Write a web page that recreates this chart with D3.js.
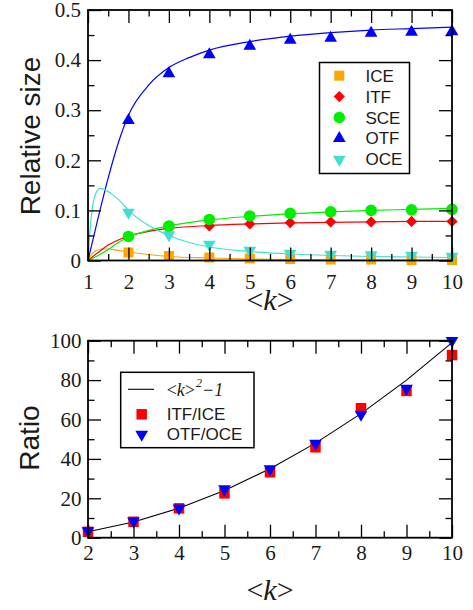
<!DOCTYPE html>
<html><head><meta charset="utf-8">
<script src="https://cdn.jsdelivr.net/npm/d3@7"></script>
<style>body{margin:0;background:#fff}svg{display:block}</style>
</head><body>
<script>
// ---------- DATA (top panel) ----------
const kPoints = [2,3,4,5,6,7,8,9,10];
const iceVals = [0.016,0.009,0.006,0.004,0.003,0.002,0.002,0.001,0.001];
const itfVals = [0.048,0.064,0.069,0.073,0.0755,0.077,0.077,0.078,0.078];
const sceVals = [0.048,0.069,0.082,0.089,0.094,0.097,0.100,0.101,0.102];
const otfVals = [0.280,0.373,0.411,0.428,0.440,0.444,0.454,0.456,0.457];
const oceVals = [0.096,0.051,0.032,0.020,0.014,0.012,0.011,0.010,0.008];

const otfCurveK = [1,1.25,1.5,1.75,2,2.5,3,3.5,4,5,6,7,8,9,10];
const otfCurve  = [0,0.085,0.165,0.235,0.29,0.35,0.385,0.405,0.42,0.437,0.448,0.455,0.46,0.463,0.466];
const oceCurveK = [1,1.05,1.1,1.2,1.3,1.4,1.6,1.8,2,2.5,3,3.5,4,5,6,7,8,9,10];
const oceCurve  = [0,0.06,0.1,0.135,0.144,0.142,0.132,0.118,0.1,0.07,0.05,0.036,0.027,0.018,0.013,0.01,0.008,0.007,0.006];
const iceCurveK = [1,1.1,1.2,1.35,1.5,1.75,2,2.5,3,4,5,6,7,8,10];
const iceCurve  = [0,0.013,0.02,0.023,0.023,0.02,0.017,0.012,0.008,0.005,0.003,0.002,0.0015,0.001,0.001];
const itfCurveK = [1,1.25,1.5,1.75,2,2.5,3,4,5,6,7,8,9,10];
const itfCurve  = [0,0.016,0.031,0.041,0.049,0.058,0.064,0.07,0.073,0.075,0.076,0.077,0.078,0.078];
const sceCurveK = [1,1.25,1.5,1.75,2,2.5,3,4,5,6,7,8,9,10];
const sceCurve  = [0,0.01,0.022,0.036,0.047,0.06,0.069,0.081,0.088,0.093,0.097,0.1,0.102,0.104];

const topLegend = ["ICE","ITF","SCE","OTF","OCE"];
const topXTicks = [1,2,3,4,5,6,7,8,9,10];
const topYTicks = [0,0.1,0.2,0.3,0.4,0.5];

// ---------- DATA (bottom panel) ----------
const kRatio = [2,3,4,5,6,7,8,9,10];
const itfIceRatio = [3.0,8.1,14.9,22.5,33.2,45.9,65.7,74.5,92.7];
const otfOceRatio = [3.4,8.4,15.0,24.7,34.9,47.9,62.6,75.8,100];
const fitK = [2,3,4,5,6,7,8,9,10];
const fitVals = [3,8,15,24,35,48,63,80,99];
const botXTicks = [2,3,4,5,6,7,8,9,10];
const botYTicks = [0,20,40,60,80,100];

// ---------- STYLE ----------
const col = {ICE:"#ffa500", ITF:"#ff0000", SCE:"#00ee00", OTF:"#0000ff", OCE:"#40e0d0"};
const W = 473, H = 610;
const svg = d3.select("body").append("svg").attr("width",W).attr("height",H);
const serif = "'Liberation Serif','Times New Roman',serif";
const sans = "'Liberation Sans',Arial,sans-serif";

const shapes = {
  square: d3.symbol().type(d3.symbolSquare).size(100),
  diamond: d3.symbol().type(d3.symbolSquare).size(62),
  circle: d3.symbol().type(d3.symbolCircle).size(105),
  tri: d3.symbol().type(d3.symbolTriangle).size(70),
  sq2: d3.symbol().type(d3.symbolSquare).size(110)
};
const rot = {square:0, diamond:45, circle:0, tri:0, dtri:180, sq2:0};
function sym(name){ return (name==="dtri"? shapes.tri : shapes[name])(); }

function frame(g, x, y, xMajor, xMinor, yMajor, yMinor, padX, padY, fmtY){
  const [x0,x1] = x.range(), [y0,y1] = y.range();
  const L = 13, l = 6.5;
  const ax = (axis, tr, vals, len, fmt, pad) => {
    const a = axis.tickValues(vals).tickSize(-len).tickSizeOuter(0).tickPadding(pad||0).tickFormat(fmt||"");
    const gg = g.append("g").attr("transform",tr).call(a);
    gg.attr("font-family",null).attr("font-size",null);
    gg.select(".domain").remove();
    gg.selectAll("line").attr("stroke","#000").attr("stroke-width",1.3);
    gg.selectAll("text").style("font-family",serif).style("font-size","21px").attr("fill","#1a1a1a");
    return gg;
  };
  ax(d3.axisBottom(x), `translate(0,${y0})`, xMajor, L, d3.format("d"), padX);
  ax(d3.axisBottom(x), `translate(0,${y0})`, xMinor, l);
  ax(d3.axisTop(x), `translate(0,${y1})`, xMajor, L);
  ax(d3.axisTop(x), `translate(0,${y1})`, xMinor, l);
  ax(d3.axisLeft(y), `translate(${x0},0)`, yMajor, L, fmtY, padY);
  ax(d3.axisLeft(y), `translate(${x0},0)`, yMinor, l);
  ax(d3.axisRight(y), `translate(${x1},0)`, yMajor, L);
  ax(d3.axisRight(y), `translate(${x1},0)`, yMinor, l);
  g.append("rect").attr("x",x0).attr("y",y1).attr("width",x1-x0).attr("height",y0-y1)
    .attr("fill","none").attr("stroke","#000").attr("stroke-width",1.8);
}

function kTitle(g, cx, by){
  const t = g.append("text").attr("x",cx).attr("y",by).attr("text-anchor","middle")
    .style("font-family",serif).style("font-size","30px").attr("fill","#1a1a1a");
  t.append("tspan").text("<");
  t.append("tspan").attr("font-style","italic").text("k");
  t.append("tspan").text(">");
}

// ---------- TOP PANEL ----------
{
  const g = svg.append("g");
  const x = d3.scaleLinear().domain([1,10]).range([88,452]);
  const y = d3.scaleLinear().domain([0,0.5]).range([260.5,10]);
  const line = d3.line().curve(d3.curveMonotoneX).x(d=>x(d[0])).y(d=>y(d[1]));
  const curves = [
    ["ICE", iceCurveK, iceCurve], ["ITF", itfCurveK, itfCurve], ["SCE", sceCurveK, sceCurve],
    ["OTF", otfCurveK, otfCurve], ["OCE", oceCurveK, oceCurve]];
  curves.forEach(([n,ks,vs])=>{
    g.append("path").datum(ks.map((k,i)=>[k,vs[i]])).attr("d",line)
      .attr("fill","none").attr("stroke",col[n]).attr("stroke-width",1.2);
  });
  const pts = [["ICE",iceVals,"square"],["ITF",itfVals,"diamond"],["SCE",sceVals,"circle"],
               ["OTF",otfVals,"tri"],["OCE",oceVals,"dtri"]];
  pts.forEach(([n,vs,s])=>{
    g.selectAll(null).data(kPoints.map((k,i)=>[k,vs[i]])).enter().append("path")
      .attr("d",sym(s)).attr("fill",col[n])
      .attr("transform",d=>`translate(${x(d[0])},${y(d[1])}) rotate(${rot[s]})`);
  });
  frame(g, x, y, topXTicks, d3.range(1.5,10,1), topYTicks, d3.range(0.05,0.5,0.1), 13.5, 7,
        v=> v===0 ? "0" : d3.format(".1f")(v));
  // legend
  const lg = g.append("g");
  lg.append("rect").attr("x",319.5).attr("y",62.5).attr("width",90).attr("height",111)
    .attr("fill","#fff").attr("stroke","#000").attr("stroke-width",1.5);
  topLegend.forEach((n,i)=>{
    const yy = 75.7 + i*20.9;
    const s = pts[i][2];
    lg.append("path").attr("d",sym(s)).attr("fill",col[n])
      .attr("transform",`translate(339.3,${yy}) rotate(${rot[s]})`);
    lg.append("text").attr("x",365.5).attr("y",yy+6).style("font-family",sans)
      .style("font-size","17px").attr("fill","#1a1a1a").text(n);
  });
  g.append("text").attr("transform","translate(40,136) rotate(-90)").attr("text-anchor","middle")
    .style("font-family",sans).style("font-size","28px").attr("fill","#1a1a1a").text("Relative size");
  kTitle(g, 270, 310);
}

// ---------- BOTTOM PANEL ----------
{
  const g = svg.append("g");
  const x = d3.scaleLinear().domain([2,10]).range([88,452]);
  const y = d3.scaleLinear().domain([0,100]).range([537.7,340.7]);
  const line = d3.line().x(d=>x(d[0])).y(d=>y(d[1]));
  g.append("path").datum(fitK.map((k,i)=>[k,fitVals[i]])).attr("d",line)
    .attr("fill","none").attr("stroke","#000").attr("stroke-width",1.1);
  g.selectAll(null).data(kRatio.map((k,i)=>[k,itfIceRatio[i]])).enter().append("path")
    .attr("d",sym("sq2")).attr("fill","#ff0000")
    .attr("transform",d=>`translate(${x(d[0])},${y(d[1])})`);
  g.selectAll(null).data(kRatio.map((k,i)=>[k,otfOceRatio[i]])).enter().append("path")
    .attr("d",sym("dtri")).attr("fill","#0000ff")
    .attr("transform",d=>`translate(${x(d[0])},${y(d[1])}) rotate(180)`);
  frame(g, x, y, botXTicks, d3.range(2.5,10,1), botYTicks, d3.range(10,100,20), 7.5, 6.5, d3.format("d"));
  // legend
  const lg = g.append("g");
  lg.append("rect").attr("x",120.7).attr("y",372.3).attr("width",133.3).attr("height",75.4)
    .attr("fill","#fff").attr("stroke","#000").attr("stroke-width",1.5);
  lg.append("line").attr("x1",128).attr("x2",154).attr("y1",389.3).attr("y2",389.3)
    .attr("stroke","#000").attr("stroke-width",1.1);
  const t = lg.append("text").attr("x",166.7).attr("y",395.5).style("font-family",serif)
    .style("font-size","18px").attr("font-style","italic").attr("fill","#1a1a1a");
  t.append("tspan").attr("font-style","normal").text("<");
  t.append("tspan").text("k");
  t.append("tspan").attr("font-style","normal").text(">");
  t.append("tspan").style("font-size","12px").attr("dy",-9).attr("dx",1).text("2");
  t.append("tspan").attr("dy",9).text("\u2212");
  t.append("tspan").text("1");
  lg.append("path").attr("d",sym("sq2")).attr("fill","#ff0000").attr("transform","translate(141.7,414.3)");
  lg.append("text").attr("x",166.7).attr("y",420.3).style("font-family",sans).style("font-size","17px")
    .attr("fill","#1a1a1a").text("ITF/ICE");
  lg.append("path").attr("d",sym("dtri")).attr("fill","#0000ff").attr("transform","translate(141.7,434.3) rotate(180)");
  lg.append("text").attr("x",166.7).attr("y",440.3).style("font-family",sans).style("font-size","17px")
    .attr("fill","#1a1a1a").text("OTF/OCE");
  g.append("text").attr("transform","translate(39,438) rotate(-90)").attr("text-anchor","middle")
    .style("font-family",sans).style("font-size","28px").attr("fill","#1a1a1a").text("Ratio");
  kTitle(g, 270, 600);
}
</script>
</body></html>
